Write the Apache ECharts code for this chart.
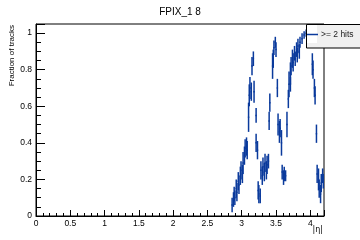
<!DOCTYPE html>
<html lang="en">
<head>
<meta charset="UTF-8" />
<title>FPIX_1 8</title>
<script src="https://cdn.jsdelivr.net/npm/echarts@6/dist/echarts.min.js"></script>
<style>
  html, body { margin: 0; padding: 0; background: #fff; }
  #main { width: 360px; height: 240px; }
</style>
</head>
<body>
<div id="main"></div>
<script>
// |eta| bin centres, fraction of tracks with >= 2 hits, and its error
var eta = [2.86, 2.88, 2.89, 2.90, 2.92, 2.93, 2.95, 2.96, 2.98, 2.99,
           3.01, 3.02, 3.04, 3.05, 3.07, 3.08, 3.10, 3.11, 3.12, 3.14,
           3.15, 3.17, 3.18, 3.21, 3.21, 3.23, 3.24, 3.25, 3.27, 3.28,
           3.30, 3.31, 3.33, 3.34, 3.36, 3.37, 3.39, 3.40, 3.41, 3.45,
           3.46, 3.47, 3.49, 3.50, 3.52, 3.53, 3.55, 3.56, 3.58, 3.59,
           3.61, 3.62, 3.64, 3.66, 3.68, 3.69, 3.71, 3.71, 3.72, 3.74,
           3.75, 3.77, 3.78, 3.80, 3.81, 3.82, 3.84, 3.85, 3.88, 3.91,
           3.94, 4.03, 4.04, 4.06, 4.07, 4.09, 4.10, 4.12, 4.13, 4.15,
           4.16, 4.18, 4.19];
var frac = [0.06, 0.09, 0.12, 0.10, 0.15, 0.13, 0.19, 0.17, 0.22, 0.25,
            0.23, 0.29, 0.33, 0.37, 0.38, 0.36, 0.54, 0.66, 0.70, 0.68,
            0.82, 0.86, 0.68, 0.40, 0.55, 0.36, 0.14, 0.12, 0.11, 0.25,
            0.22, 0.27, 0.24, 0.29, 0.25, 0.28, 0.30, 0.52, 0.62, 0.82,
            0.86, 0.92, 0.95, 0.91, 0.70, 0.50, 0.46, 0.48, 0.40, 0.24,
            0.21, 0.23, 0.22, 0.50, 0.64, 0.72, 0.78, 0.72, 0.82, 0.86,
            0.84, 0.89, 0.86, 0.91, 0.88, 0.93, 0.90, 0.95, 0.97, 0.99,
            1.00, 0.83, 0.80, 0.70, 0.66, 0.45, 0.23, 0.20, 0.15, 0.12,
            0.18, 0.22, 0.19];
var fracErr = [0.04, 0.04, 0.04, 0.04, 0.05, 0.05, 0.05, 0.05, 0.05, 0.05,
               0.05, 0.06, 0.05, 0.05, 0.05, 0.05, 0.08, 0.06, 0.06, 0.05,
               0.05, 0.04, 0.06, 0.05, 0.04, 0.05, 0.05, 0.05, 0.04, 0.05,
               0.05, 0.05, 0.05, 0.05, 0.05, 0.05, 0.04, 0.05, 0.05, 0.07,
               0.05, 0.04, 0.03, 0.04, 0.05, 0.06, 0.06, 0.05, 0.07, 0.04,
               0.04, 0.04, 0.03, 0.07, 0.05, 0.07, 0.06, 0.04, 0.05, 0.05,
               0.05, 0.04, 0.04, 0.04, 0.04, 0.04, 0.04, 0.03, 0.03, 0.02,
               0.02, 0.06, 0.05, 0.05, 0.05, 0.05, 0.05, 0.06, 0.05, 0.05,
               0.05, 0.04, 0.04];
var binWidth = 0.02;
var seriesName = '>= 2 hits';
var lineColor = '#0a3a9c';

var points = eta.map(function (x, i) { return [x, frac[i], fracErr[i]]; });

var myChart = echarts.init(document.getElementById('main'));

var font = 'Liberation Sans, Arial, sans-serif';

myChart.setOption({
  animation: false,
  title: {
    text: 'FPIX_1 8',
    left: 'center',
    top: 2,
    textStyle: { fontFamily: font, fontSize: 10, fontWeight: 'normal', color: '#000' }
  },
  grid: {
    left: 36, right: 36, top: 24, bottom: 24,
    show: true, borderColor: '#000', borderWidth: 1, backgroundColor: '#fff'
  },
  legend: {
    data: [{ name: seriesName, icon: 'rect' }],
    left: 307, top: 30,
    itemWidth: 11, itemHeight: 1.5, itemGap: 0,
    padding: 0,
    z: 6,
    textStyle: { fontFamily: font, fontSize: 8.5, color: '#222', padding: [0, 0, 0, -2] }
  },
  xAxis: {
    type: 'value',
    min: 0, max: 4.2, interval: 0.5,
    axisLine: { onZero: false, lineStyle: { color: '#000', width: 1 } },
    axisTick: { inside: true, length: 6, lineStyle: { color: '#000' } },
    minorTick: { show: true, splitNumber: 5, length: 3, lineStyle: { color: '#000' } },
    splitLine: { show: false },
    axisLabel: {
      fontFamily: font, fontSize: 8.5, color: '#000', margin: 3,
      showMaxLabel: false,
      formatter: function (v) { return String(+v.toFixed(1)); }
    }
  },
  yAxis: {
    type: 'value',
    min: 0, max: 1.05, interval: 0.2,
    axisLine: { onZero: false, lineStyle: { color: '#000', width: 1 } },
    axisTick: { inside: true, length: 9, lineStyle: { color: '#000' } },
    minorTick: { show: true, splitNumber: 4, length: 5, lineStyle: { color: '#000' } },
    splitLine: { show: false },
    axisLabel: {
      fontFamily: font, fontSize: 8.5, color: '#000', margin: 4,
      showMaxLabel: false,
      formatter: function (v) { return String(+v.toFixed(1)); }
    }
  },
  graphic: [
    {
      type: 'rect', z: 5,
      shape: { x: 306.5, y: 24.5, width: 60, height: 23.5 },
      style: { fill: '#f0f0f0', stroke: '#000', lineWidth: 1 }
    },
    {
      type: 'rect', z: 5,
      shape: { x: 307, y: 25, width: 10, height: 18 },
      style: { fill: '#fff' }
    },
    {
      type: 'text', z: 5,
      x: 12, y: 25, rotation: Math.PI / 2,
      style: {
        text: 'Fraction of tracks', fontFamily: font, fontSize: 8,
        fill: '#000', align: 'right', verticalAlign: 'middle'
      }
    },
    {
      type: 'text', z: 5,
      x: 323, y: 230,
      style: {
        text: '|η|', fontFamily: 'DejaVu Sans, sans-serif', fontSize: 8,
        fill: '#000', align: 'right', verticalAlign: 'middle'
      }
    }
  ],
  series: [{
    name: seriesName,
    type: 'custom',
    itemStyle: { color: lineColor },
    clip: true,
    data: points,
    encode: { x: 0, y: 1 },
    renderItem: function (params, api) {
      var x = api.value(0), y = api.value(1), e = api.value(2);
      var top = api.coord([x, y + e]);
      var bot = api.coord([x, y - e]);
      var l = api.coord([x - binWidth / 2, y]);
      var r = api.coord([x + binWidth / 2, y]);
      var st = { stroke: lineColor, lineWidth: 1.5 };
      return {
        type: 'group',
        children: [
          { type: 'line', shape: { x1: top[0], y1: top[1], x2: bot[0], y2: bot[1] }, style: st },
          { type: 'line', shape: { x1: l[0], y1: l[1], x2: r[0], y2: r[1] }, style: st }
        ]
      };
    }
  }]
});
</script>
</body>
</html>
